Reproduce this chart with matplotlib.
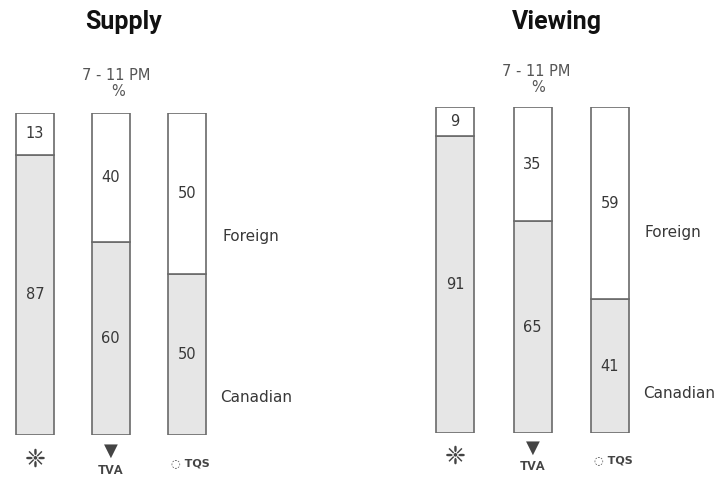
import matplotlib
matplotlib.use("Agg")
import matplotlib.pyplot as plt

networks = ["CBC", "TVA", "TQS"]
supply_canadian = [87, 60, 50]
supply_foreign = [13, 40, 50]
viewing_canadian = [91, 65, 41]
viewing_foreign = [9, 35, 59]
panel_titles = ["Supply", "Viewing"]
subtitle_line1 = "7 - 11 PM"
subtitle_line2 = "%"
series_labels = ["Foreign", "Canadian"]

W, H = 723, 479
fig = plt.figure(figsize=(W / 100, H / 100), dpi=100)
fig.patch.set_facecolor("white")

txt_color = "#383838"
edge = "#6a6a6a"
fill_can = "#e6e6e6"
base_font = ["DejaVu Sans"]
title_font = ["Roboto", "DejaVu Sans"]

panels = [
    dict(can=supply_canadian, frn=supply_foreign, x0=0, top=113, bottom=435,
         centers=[35, 110.5, 187], title_x=123, sub_x=116, sub_y1=75, sub_y2=91,
         frn_x=223, frn_y=236, can_x=220, can_y=398, logo_y=460),
    dict(can=viewing_canadian, frn=viewing_foreign, x0=362, top=107, bottom=433,
         centers=[455, 532.5, 610], title_x=557, sub_x=536, sub_y1=72, sub_y2=88,
         frn_x=645, frn_y=232, can_x=643, can_y=393, logo_y=457),
]

def fy(y):
    return 1 - y / H

for p, title in zip(panels, panel_titles):
    ax = fig.add_axes([p["x0"] / W, fy(p["bottom"]), 361 / W, (p["bottom"] - p["top"]) / H])
    ax.set_xlim(p["x0"], p["x0"] + 361)
    ax.set_ylim(0, 100)
    ax.axis("off")
    ax.bar(p["centers"], p["can"], width=38, color=fill_can, edgecolor=edge, linewidth=1.2)
    ax.bar(p["centers"], p["frn"], bottom=p["can"], width=38, color="white", edgecolor=edge, linewidth=1.2)
    for xc, c, f in zip(p["centers"], p["can"], p["frn"]):
        ax.text(xc, c / 2, str(c), ha="center", va="center", fontsize=10.5, color=txt_color, family=base_font)
        ax.text(xc, c + f / 2, str(f), ha="center", va="center", fontsize=10.5, color=txt_color, family=base_font)

    fig.text(p["title_x"] / W, fy(22), title, ha="center", va="center", fontsize=18,
             fontweight="bold", color="#111111", family=title_font)
    fig.text(p["sub_x"] / W, fy(p["sub_y1"]), subtitle_line1, ha="center", va="center", fontsize=10.5,
             color="#555555", family=base_font)
    fig.text((p["sub_x"] + 2) / W, fy(p["sub_y2"]), subtitle_line2, ha="center", va="center", fontsize=10.5,
             color="#555555", family=base_font)
    fig.text(p["frn_x"] / W, fy(p["frn_y"]), series_labels[0], ha="left", va="center",
             fontsize=11, color=txt_color, family=base_font)
    fig.text(p["can_x"] / W, fy(p["can_y"]), series_labels[1], ha="left", va="center",
             fontsize=11, color=txt_color, family=base_font)
    # network identifiers below bars
    c0, c1, c2 = p["centers"]
    ly = p["logo_y"]
    fig.text(c0 / W, fy(ly), "\u2748", ha="center", va="center", fontsize=18,
             fontweight="bold", color="#444444", family=["DejaVu Sans"])
    fig.text(c1 / W, fy(ly - 9), "\u25bc", ha="center", va="center", fontsize=13,
             color="#444444", family=["DejaVu Sans"])
    fig.text(c1 / W, fy(ly + 10), "TVA", ha="center", va="center", fontsize=9.5,
             fontweight="bold", color="#444444", family=["Roboto", "DejaVu Sans"])
    fig.text((c2 + 3) / W, fy(ly + 3), "\u25cc TQS", ha="center", va="center", fontsize=8,
             fontweight="bold", color="#444444", family=["DejaVu Sans"])

fig.savefig("out.png", dpi=100, facecolor="white")
